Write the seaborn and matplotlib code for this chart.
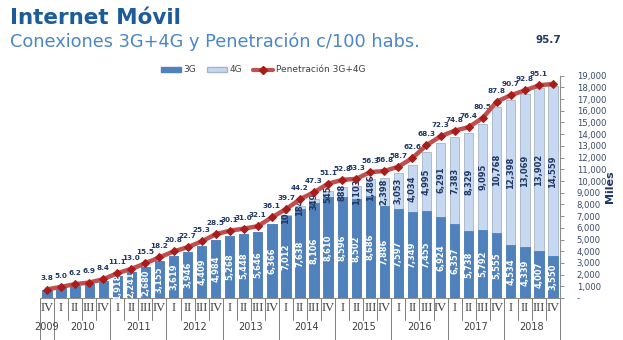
import matplotlib
matplotlib.use("Agg")
import matplotlib.pyplot as plt
from matplotlib.lines import Line2D
from matplotlib.patches import Patch
import matplotlib.transforms as mtransforms
import numpy as np
import pandas as pd
import seaborn as sns

# Quarterly data, IV-2009 .. IV-2018
quarters = ["IV"] + ["I", "II", "III", "IV"] * 9
years = ["2009", "2010", "2011", "2012", "2013", "2014", "2015", "2016", "2017", "2018"]
quarters_per_year = [1, 4, 4, 4, 4, 4, 4, 4, 4, 4]

conn_3g = [700, 880, 1060, 1160, 1420,
           1918, 2241, 2680, 3155,
           3619, 3946, 4409, 4984,
           5268, 5448, 5646, 6366,
           7012, 7638, 8106, 8610,
           8596, 8502, 8686, 7886,
           7597, 7349, 7455, 6924,
           6357, 5738, 5792, 5555,
           4534, 4339, 4007, 3550]
conn_4g = [0, 0, 0, 0, 0,
           0, 0, 0, 0,
           0, 0, 0, 0,
           0, 0, 0, 0,
           104, 184, 349, 545,
           888, 1103, 1486, 2398,
           3053, 4034, 4995, 6291,
           7383, 8329, 9095, 10768,
           12398, 13069, 13902, 14559]
penetration = [3.8, 5.0, 6.2, 6.9, 8.4,
               11.1, 13.0, 15.5, 18.2,
               20.8, 22.7, 25.3, 28.5,
               30.1, 31.0, 32.1, 36.1,
               39.7, 44.2, 47.3, 51.1,
               52.8, 53.3, 56.3, 56.8,
               58.7, 62.6, 68.3, 72.3,
               74.8, 76.4, 80.5, 87.8,
               90.7, 92.8, 95.1, 95.7]
value_ticks = list(range(0, 19001, 1000))

C3G = "#4F81BD"
C4G = "#C6D9F1"
CLINE = "#C0504D"
CMARK = "#A81C1C"
NAVY = "#1F3864"
GREY = "#404040"

sns.set_theme(style="white")
plt.rcParams["font.family"] = ["DejaVu Sans"]

n = len(quarters)
df = pd.DataFrame({
    "pos": np.arange(n),
    "g3": conn_3g,
    "g4": conn_4g,
    "total": np.array(conn_3g) + np.array(conn_4g),
    "pen": penetration,
})

fig = plt.figure(figsize=(6.23, 3.40), dpi=100)
fig.patch.set_facecolor("white")
ax = fig.add_axes([40 / 623, 42 / 340, 520 / 623, 222.3 / 340])
ax2 = ax.twinx()

# stacked bars: full height in 4G colour, 3G drawn over the bottom part
sns.barplot(data=df, x="pos", y="total", color=C4G, saturation=1, width=0.66,
            edgecolor="#A8B4C4", linewidth=0.6, ax=ax)
sns.barplot(data=df, x="pos", y="g3", color=C3G, saturation=1, width=0.66,
            edgecolor=C3G, linewidth=0.6, ax=ax)

ax.set_xlim(-0.5, n - 0.5)
ax.set_ylim(0, 19000)
ax.set_xlabel("")
ax.set_ylabel("")

# value labels inside the bars
for i in range(n):
    if i >= 5:
        ax.text(i, conn_3g[i] / 2, f"{conn_3g[i]:,}", rotation=90, ha="center",
                va="center", color="white", fontsize=6, fontweight="bold")
    if conn_4g[i] > 0:
        ax.text(i, conn_3g[i] + conn_4g[i] / 2, f"{conn_4g[i]:,}", rotation=90,
                ha="center", va="center", color=NAVY, fontsize=6, fontweight="bold")

# two-level category axis: quarters, then years
ax.set_xticks(np.arange(n))
ax.set_xticklabels(quarters, family="Liberation Serif", fontsize=9, color=GREY)
ax.tick_params(axis="x", length=0, pad=3)
trans = mtransforms.blended_transform_factory(ax.transData, ax.transAxes)
sep_short = -22 / 222.3
sep_long = -42 / 222.3
year_starts = np.cumsum([0] + quarters_per_year)
for k in range(n + 1):
    x = k - 0.5
    y_end = sep_long if k in year_starts else sep_short
    ax.add_line(Line2D([x, x], [0, y_end], transform=trans, color="#7F7F7F",
                       linewidth=0.7, clip_on=False))
for yr, start, cnt in zip(years, year_starts[:-1], quarters_per_year):
    ax.text(start + (cnt - 1) / 2, -29 / 222.3, yr, transform=trans, ha="center",
            va="center", fontsize=7, color=GREY)

# penetration line on a secondary scale
sns.lineplot(data=df, x="pos", y="pen", color=CLINE, linewidth=3.2, ax=ax2,
             marker="D", markersize=4.2, markerfacecolor=CMARK,
             markeredgecolor=CMARK, zorder=5)
ax2.set_ylim(0, 99.4)
ax2.set_xlim(-0.5, n - 0.5)
ax2.set_ylabel("")
ax2.set_yticks([])
ax2.tick_params(axis="y", which="both", left=False, right=False,
                labelleft=False, labelright=False)
for side in ax2.spines:
    ax2.spines[side].set_visible(False)

for i, p in enumerate(penetration[:-1]):
    ax2.annotate(f"{p:.1f}", (i, p), xytext=(0, 8), textcoords="offset points",
                 ha="center", va="center", fontsize=5.2, fontweight="bold",
                 color=NAVY)
ax2.annotate(f"{penetration[-1]:.1f}", (n - 1, penetration[-1]), xytext=(-3, 32),
             textcoords="offset points", ha="center", va="center", fontsize=7.5,
             fontweight="bold", color=NAVY)

# right-hand value axis (set after twinx, which resets the tick side)
ax.yaxis.tick_right()
ax.set_yticks(value_ticks)
ax.set_yticklabels(["-" if v == 0 else f"{v:,}" for v in value_ticks])
ax.tick_params(axis="y", which="both", left=False, right=True, labelleft=False,
               labelright=True, length=3, width=0.6, color="#808080",
               labelsize=6.1, labelcolor="#3A4A66", pad=9)
for tick in ax.yaxis.get_major_ticks():
    tick.label2.set_horizontalalignment("left")
ax.text(1.097, 0.5, "Miles", transform=ax.transAxes, rotation=90, ha="center",
        va="center", fontsize=8, fontweight="bold", color=NAVY)

for side in ["left", "top"]:
    ax.spines[side].set_visible(False)
for side in ["right", "bottom"]:
    ax.spines[side].set_visible(True)
    ax.spines[side].set_color("#8C8C8C")
    ax.spines[side].set_linewidth(0.8)

# legend
handles = [Patch(facecolor=C3G, edgecolor=C3G),
           Patch(facecolor=C4G, edgecolor="#A8B4C4"),
           Line2D([], [], color=CLINE, linewidth=3, marker="D", markersize=4,
                  markerfacecolor=CMARK, markeredgecolor=CMARK)]
fig.legend(handles, ["3G", "4G", "Penetración 3G+4G"], loc="center",
           bbox_to_anchor=(263 / 623, 1 - 70 / 340), ncol=3, frameon=False,
           fontsize=6.5, handlelength=2.2, handleheight=0.5, columnspacing=1.2,
           handletextpad=0.3, labelcolor=GREY)

# headings
fig.text(10 / 623, 1 - 18 / 340, "Internet Móvil", ha="left", va="center",
         fontsize=15.5, fontweight="bold", color="#1D5C9C")
fig.text(10 / 623, 1 - 42 / 340, "Conexiones 3G+4G y Penetración c/100 habs.",
         ha="left", va="center", fontsize=12.8, color="#4A86C8")

fig.savefig("out.png", dpi=100, facecolor="white")
